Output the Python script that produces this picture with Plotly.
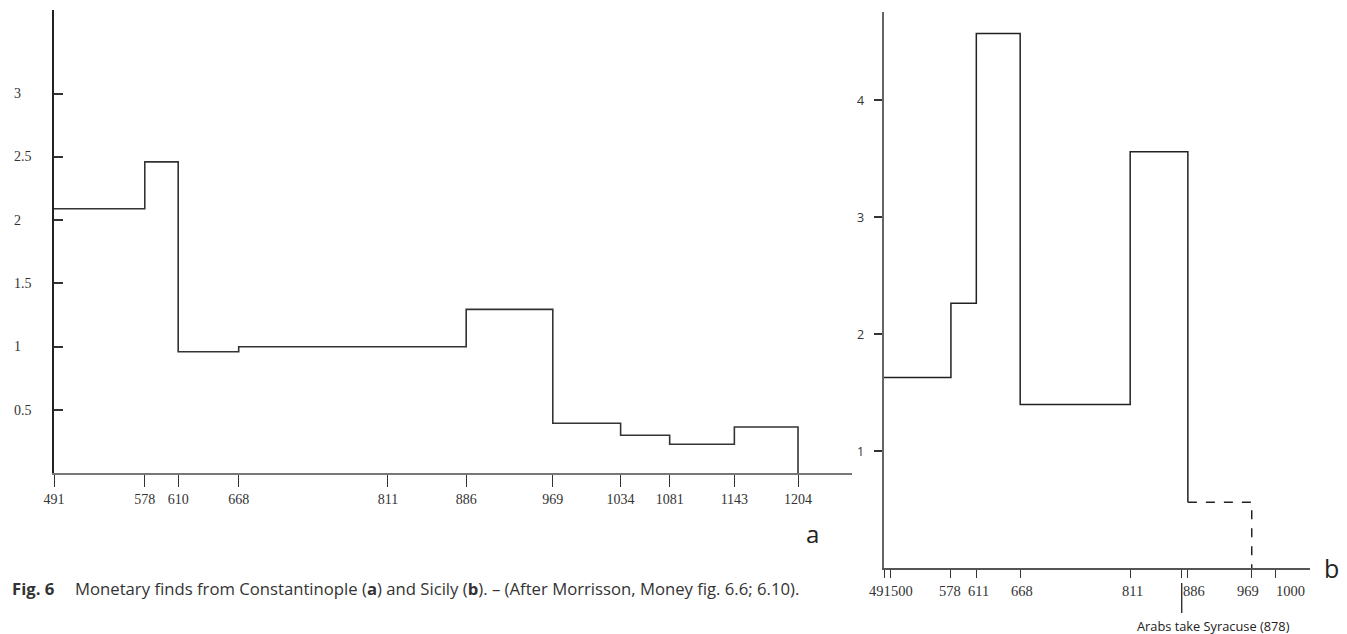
import plotly.graph_objects as go

# ---------------- data ----------------
# Chart a: Constantinople
a_edges = [491, 578, 610, 668, 886, 969, 1034, 1081, 1143, 1204]
a_values = [2.09, 2.46, 0.96, 1.0, 1.295, 0.395, 0.30, 0.23, 0.366]
a_xticks = [491, 578, 610, 668, 811, 886, 969, 1034, 1081, 1143, 1204]
a_yticks = [0.5, 1, 1.5, 2, 2.5, 3]
a_ytext = ["0.5", "1", "1.5", "2", "2.5", "3"]

# Chart b: Sicily
b_edges = [491, 578, 611, 668, 811, 886]
b_values = [1.63, 2.265, 4.57, 1.40, 3.56]
b_dash_edges = [886, 969]
b_dash_value = 0.565
b_xticks = [491, 500, 578, 611, 668, 811, 878, 886, 969, 1000]
b_xlabels = ["491", "500", "578", "611", "668", "811", "", "886", "969", "1000"]
b_yticks = [1, 2, 3, 4]
b_ytext = ["1", "2", "3", "4"]
event_year = 878
event_text = "Arabs take Syracuse (878)"

caption_head = "Fig. 6"
caption_body = ("Monetary finds from Constantinople (<b>a</b>) and Sicily (<b>b</b>). "
                "– (After Morrisson, Money fig. 6.6; 6.10).")

# ---------------- layout helpers ----------------
W, H = 1347, 634
def px(x):
    return x / W
def py(y):
    return 1 - y / H

SERIF = "Liberation Serif, Times New Roman, serif"
SANS = "Open Sans, Noto Sans, sans-serif"
b_label_shift = [-4, 11, -1, 2, 2, 2, 0, 6, -4, 15]

fig = go.Figure()

# chart a step line
fig.add_trace(go.Scatter(
    x=a_edges, y=a_values + [0], mode="lines", line_shape="hv",
    line=dict(color="#333333", width=1.6), xaxis="x", yaxis="y",
    hoverinfo="skip"))

# chart b solid steps
fig.add_trace(go.Scatter(
    x=b_edges, y=b_values + [b_dash_value], mode="lines", line_shape="hv",
    line=dict(color="#222222", width=1.5), xaxis="x2", yaxis="y2",
    hoverinfo="skip"))
# chart b dashed tail
fig.add_trace(go.Scatter(
    x=b_dash_edges, y=[b_dash_value, 0], mode="lines", line_shape="hv",
    line=dict(color="#222222", width=1.5, dash="dash"), xaxis="x2", yaxis="y2",
    hoverinfo="skip"))

a_scale = 1.0435
b_scale = 0.7693
a_x0, a_x1 = 54, 852
b_x0, b_x1 = 884, 1310

annotations = []
# chart a y labels (left aligned)
for v, t in zip(a_yticks, a_ytext):
    annotations.append(dict(x=px(12), xref="paper", xanchor="left", y=v, yref="y",
                            yanchor="middle", text=t, showarrow=False,
                            font=dict(family=SERIF, size=14, color="#333333")))
# chart b y labels
for v, t in zip(b_yticks, b_ytext):
    annotations.append(dict(x=px(866), xref="paper", xanchor="right", y=v, yref="y2",
                            yanchor="middle", text=t, showarrow=False,
                            font=dict(family=SANS, size=12.5, color="#333333")))
# chart b x labels
for v, t, s in zip(b_xticks, b_xlabels, b_label_shift):
    if not t:
        continue
    annotations.append(dict(x=v, xref="x2", xanchor="center", xshift=s,
                            y=py(591), yref="paper", yanchor="middle", text=t,
                            showarrow=False,
                            font=dict(family=SERIF, size=14.5, color="#333333")))
# event annotation text
annotations.append(dict(x=event_year, xref="x2", xanchor="center", xshift=32,
                        y=py(626), yref="paper", yanchor="middle", text=event_text,
                        showarrow=False, font=dict(family=SANS, size=12.8, color="#222222")))
# panel letters
annotations.append(dict(x=px(812), xref="paper", y=py(533), yref="paper",
                        text="a", showarrow=False, xanchor="center", yanchor="middle",
                        font=dict(family=SANS, size=24, color="#222222")))
annotations.append(dict(x=px(1331), xref="paper", y=py(568), yref="paper",
                        text="b", showarrow=False, xanchor="center", yanchor="middle",
                        font=dict(family=SANS, size=25, color="#222222")))
# caption
annotations.append(dict(x=px(10), xref="paper", y=py(588), yref="paper",
                        text="<b>" + caption_head + "</b>", showarrow=False,
                        xanchor="left", yanchor="middle",
                        font=dict(family=SANS, size=16.7, color="#333333")))
annotations.append(dict(x=px(73), xref="paper", y=py(588), yref="paper",
                        text=caption_body, showarrow=False,
                        xanchor="left", yanchor="middle",
                        font=dict(family=SANS, size=16.7, color="#333333")))

shapes = [dict(type="line", xref="x2", yref="paper", x0=event_year, x1=event_year,
               y0=py(583), y1=py(613), line=dict(color="#222222", width=1.3))]

fig.update_layout(
    width=W, height=H, margin=dict(l=0, r=0, t=0, b=0, autoexpand=False),
    paper_bgcolor="white", plot_bgcolor="white", showlegend=False,
    annotations=annotations, shapes=shapes,
    xaxis=dict(domain=[px(a_x0), px(a_x1)],
               range=[491, 491 + (a_x1 - a_x0) / a_scale],
               showgrid=False, zeroline=False, showline=True,
               linecolor="#777777", linewidth=1.5,
               tickvals=a_xticks, ticktext=[str(v) for v in a_xticks],
               ticks="outside", ticklen=12, tickwidth=1.3, tickcolor="#333333",
               tickfont=dict(family=SERIF, size=14, color="#333333"),
               anchor="y", fixedrange=True, automargin=False),
    yaxis=dict(domain=[py(473.3), py(10)], range=[0, 463.3 / 126.6],
               showgrid=False, zeroline=False, showline=True,
               linecolor="#222222", linewidth=1.5,
               tickvals=a_yticks, ticks="inside", ticklen=9, tickwidth=1.5,
               tickcolor="#333333", showticklabels=False,
               anchor="x", fixedrange=True, automargin=False),
    xaxis2=dict(domain=[px(b_x0), px(b_x1)],
                range=[491, 491 + (b_x1 - b_x0) / b_scale],
                showgrid=False, zeroline=False, showline=True,
                linecolor="#555555", linewidth=2,
                tickvals=b_xticks, ticks="outside", ticklen=8, tickwidth=1.3,
                tickcolor="#333333", showticklabels=False,
                anchor="y2", fixedrange=True, automargin=False),
    yaxis2=dict(domain=[py(568.3), py(11.7)], range=[0, (568.3 - 11.7) / 117],
                showgrid=False, zeroline=False, showline=True,
                linecolor="#666666", linewidth=2,
                tickvals=b_yticks, ticks="outside", ticklen=8, tickwidth=1.5,
                tickcolor="#333333", showticklabels=False,
                anchor="x2", fixedrange=True, automargin=False),
)

fig.write_html("out.html")
